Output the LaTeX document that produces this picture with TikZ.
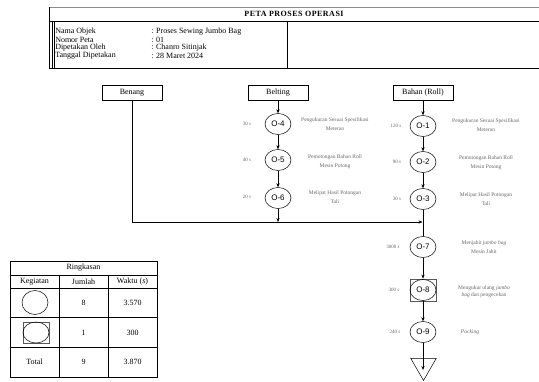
\documentclass[tikz,border=0pt]{standalone}
\usepackage{fontspec}
\setmainfont{Liberation Serif}
\newfontfamily\opsans{Liberation Sans}
\usetikzlibrary{shapes.geometric,arrows.meta}
\begin{document}
\begin{tikzpicture}[x=1pt,y=-1pt,line width=0.5pt,
 op/.style={ellipse,draw,minimum width=26pt,minimum height=21pt,inner sep=0pt,font=\opsans\fontsize{8}{9}\selectfont},
 srcbox/.style={draw,minimum width=60pt,minimum height=15pt,inner sep=0pt,font=\fontsize{8}{9}\selectfont},
 tm/.style={font=\fontsize{5}{6}\selectfont,text=black!60,inner sep=0pt},
 desc/.style={font=\fontsize{5.5}{9}\selectfont,text=black!60,align=center,inner sep=0pt},
 info/.style={font=\fontsize{8}{8}\selectfont,anchor=west,inner sep=0pt},
 cell/.style={font=\fontsize{8}{9}\selectfont,inner sep=0pt},
 frame/.style={draw=black!65,line width=0.7pt,minimum width=26pt,inner sep=0pt},
 arr/.style={-{Stealth[length=4pt,width=3.2pt]}}]
\useasboundingbox (0,0) rectangle (539,382);
% header
\draw[black!45,line width=1pt] (49,7.5) -- (539,7.5);
\draw (49,7) -- (49,68);
\draw (49,21) -- (539,21);
\draw (49,68) -- (539,68);
\draw (52,21) -- (52,68);
\draw (54,21) -- (54,68);
\draw (287,21) -- (287,68);
\node[font=\bfseries\fontsize{8}{9}\selectfont\addfontfeature{LetterSpace=6}] (title) at (294,14) {PETA PROSES OPERASI};
\node[info] (k1) at (55,31.5) {Nama Objek};
\node[info] (k2) at (55,39.5) {Nomor Peta};
\node[info] (k3) at (55,47.5) {Dipetakan Oleh};
\node[info] (k4) at (55,55.5) {Tanggal Dipetakan};
\node[info] (v1) at (151,31.5) {: Proses Sewing Jumbo Bag};
\node[info] (v2) at (151,39.5) {: 01};
\node[info] (v3) at (151,47.5) {: Chanro Sitinjak};
\node[info] (v4) at (151,55.5) {: 28 Maret 2024};
% sources
\node[srcbox] (benang) at (132,93) {Benang};
\node[srcbox] (belting) at (278,93) {Belting};
\node[srcbox] (bahan) at (423,93) {Bahan (Roll)};
% operations
\node[op] (o4) at (278,124) {O-4};
\node[op] (o5) at (278,160) {O-5};
\node[op] (o6) at (278,198) {O-6};
\node[op] (o1) at (423,126) {O-1};
\node[op] (o2) at (423,162) {O-2};
\node[op] (o3) at (423,199) {O-3};
\node[op] (o7) at (423,247) {O-7};
\node[frame,minimum height=22pt] (o8) at (423,290) {};
\node[op] (o8c) at (423,290) {O-8};
\node[op] (o9) at (423,332) {O-9};
\node[draw,isosceles triangle,isosceles triangle apex angle=60,shape border rotate=-90,minimum height=22pt,inner sep=0pt,anchor=apex] (store) at (423.5,381) {};
\coordinate (m1) at (278,222);
\coordinate (m2) at (422.5,222);
\coordinate (st) at (423,370);
% connectors
\draw[arr] (belting) -- (o4);
\draw[arr] (o4) -- (o5);
\draw[arr] (o5) -- (o6);
\draw[arr] (o6) -- (m1);
\draw[arr] (benang.south) |- (m2);
\draw[arr] (bahan) -- (o1);
\draw[arr] (o1) -- (o2);
\draw[arr] (o2) -- (o3);
\draw (o3) -- (o7);
\draw[arr] (o7) -- (o8);
\draw[arr] (o8) -- (o9);
\draw[arr] (o9) -- (st);
% times
\node[tm] (t4) at (247,124) {30 \textit{s}};
\node[tm] (t5) at (247,160) {40 \textit{s}};
\node[tm] (t6) at (247,197) {20 \textit{s}};
\node[tm] (t1) at (396,126) {120 \textit{s}};
\node[tm] (t2) at (397,162) {90 \textit{s}};
\node[tm] (t3) at (397,199) {30 \textit{s}};
\node[tm] (t7) at (393,247) {3000 \textit{s}};
\node[tm] (t8) at (394,290) {300 \textit{s}};
\node[tm] (t9) at (395,332) {240 \textit{s}};
% descriptions
\node[desc] (d4) at (335,124.5) {Pengukuran Sesuai Spesifikasi\\Meteran};
\node[desc] (d5) at (335,161.5) {Pemotongan Bahan Roll\\Mesin Potong};
\node[desc] (d6) at (335,197.5) {Melipat Hasil Potongan\\Tali};
\node[desc] (d1) at (486,125) {Pengukuran Sesuai Spesifikasi\\Meteran};
\node[desc] (d2) at (486,162.5) {Pemotongan Bahan Roll\\Mesin Potong};
\node[desc] (d3) at (486,199) {Melipat Hasil Potongan\\Tali};
\node[desc] (d7) at (484,247) {Menjahit \textit{jumbo bag}\\Mesin Jahit};
\node[desc,font=\fontsize{5.5}{7}\selectfont] (d8) at (484,291.5) {Mengukur ulang \textit{jumbo}\\\textit{bag} dan pengecekan};
\node[desc] (d9) at (470,332) {\textit{Packing}};
% summary table
\draw (10,261) rectangle (157,377);
\draw (10,275) -- (157,275);
\draw (10,288) -- (157,288);
\draw (10,317) -- (157,317);
\draw (10,347) -- (157,347);
\draw (59,275) -- (59,377);
\draw (108,275) -- (108,377);
\node[cell] (h0) at (83.5,268) {Ringkasan};
\node[cell] (h1) at (34.5,281.5) {Kegiatan};
\node[cell] (h2) at (83.5,281.5) {Jumlah};
\node[cell] (h3) at (132.5,281.5) {Waktu (\textit{s})};
\node[ellipse,draw,minimum width=26pt,minimum height=24pt,inner sep=0pt] (s1) at (35,302.5) {};
\node[cell] (n1) at (83.5,302.5) {8};
\node[cell] (w1) at (132.5,302.5) {3.570};
\node[frame,minimum height=21pt] (s2) at (36,332.5) {};
\node[ellipse,draw,minimum width=26pt,minimum height=21pt,inner sep=0pt] (s2c) at (36,332.5) {};
\node[cell] (n2) at (83.5,332.5) {1};
\node[cell] (w2) at (132.5,332.5) {300};
\node[cell] (tt) at (34.5,362) {Total};
\node[cell] (n3) at (83.5,362) {9};
\node[cell] (w3) at (132.5,362) {3.870};
\end{tikzpicture}
\end{document}
